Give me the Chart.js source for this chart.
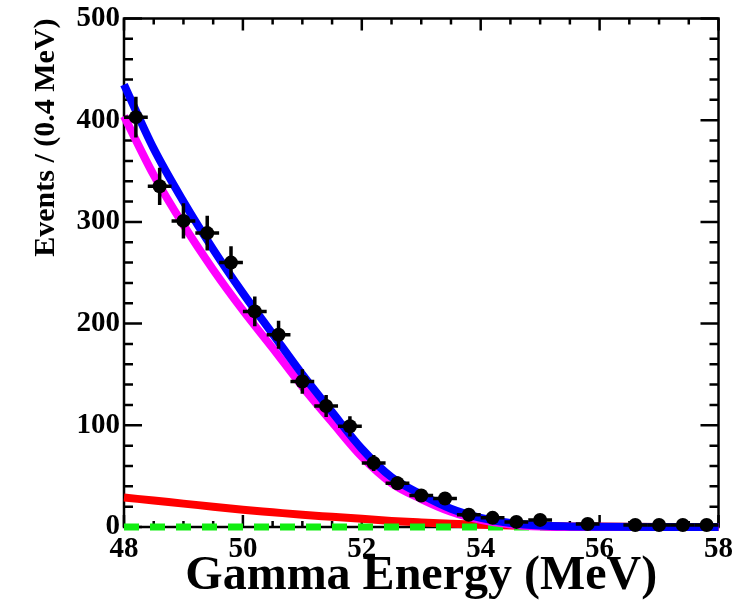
<!DOCTYPE html>
<html>
<head>
<meta charset="utf-8">
<script src="https://cdn.jsdelivr.net/npm/chart.js@4"></script>
<style>
  body { margin: 0; background: #fff; }
  #wrap { width: 741px; height: 605px; }
</style>
</head>
<body>
<div id="wrap"><canvas id="myChart"></canvas></div>
<script>
// measured points (bin centres, 0.4 MeV bins)
var binCenters = [48.2, 48.6, 49.0, 49.4, 49.8, 50.2, 50.6, 51.0, 51.4, 51.8, 52.2, 52.6, 53.0, 53.4, 53.8, 54.2, 54.6, 55.0, 55.8, 56.6, 57.0, 57.4, 57.8];
var counts     = [403, 335, 301, 289, 260, 212, 189, 143, 119, 99, 63, 43, 31, 28, 12, 9, 5, 7, 3, 2, 2, 2, 2];
var countErrs  = [20, 18.3, 17.3, 17, 16.1, 14.6, 13.7, 12, 10.9, 9.9, 7.9, 6.6, 5.6, 5.3, 3.5, 3, 2.2, 2.6, 1.7, 1.4, 1.4, 1.4, 1.4];
var binHalfWidth = 0.2;

// fit curves
var curveX      = [48.0, 48.5, 49.0, 49.5, 50.0, 50.5, 51.0, 51.5, 52.0, 52.5, 53.0, 53.5, 54.0, 54.5, 55.0, 55.5, 56.0, 57.0, 58.0];
var totalFit    = [435, 372, 320, 273, 230, 190, 150, 113, 77, 49, 32, 18, 9, 4, 1.5, 0.6, 0.2, 0, 0];
var signalFit   = [404, 346, 297, 253, 213, 176, 138, 103, 69, 43, 27.5, 15, 7, 2.5, 0.5, 0, 0, 0, 0];
var bkgFit      = [29, 26, 23, 20, 17, 14.5, 12, 10, 8, 6, 4.5, 3.2, 2.2, 1.5, 1, 0.6, 0.4, 0.1, 0];
var flatX       = [48, 58];
var flatFit     = [0, 0];

var xTicks = [48, 50, 52, 54, 56, 58];

function pts(xs, ys) {
  return xs.map(function (x, i) { return { x: x, y: ys[i] }; });
}

var serif = "'Liberation Serif', 'Times New Roman', serif";

// error bars on the data points
var errorBars = {
  id: 'errorBars',
  afterDatasetsDraw: function (chart) {
    var ctx = chart.ctx, xs = chart.scales.x, ys = chart.scales.y;
    ctx.save();
    ctx.strokeStyle = '#000';
    ctx.lineWidth = 3.5;
    for (var i = 0; i < binCenters.length; i++) {
      var px = xs.getPixelForValue(binCenters[i]);
      var py = ys.getPixelForValue(counts[i]);
      ctx.beginPath();
      ctx.moveTo(xs.getPixelForValue(binCenters[i] - binHalfWidth), py);
      ctx.lineTo(xs.getPixelForValue(binCenters[i] + binHalfWidth), py);
      ctx.moveTo(px, ys.getPixelForValue(counts[i] - countErrs[i]));
      ctx.lineTo(px, ys.getPixelForValue(counts[i] + countErrs[i]));
      ctx.stroke();
    }
    ctx.restore();
  }
};

// frame and inward ticks, ROOT style (under the curves)
var frameTicks = {
  id: 'frameTicks',
  beforeDatasetsDraw: function (chart) {
    var ctx = chart.ctx, a = chart.chartArea, xs = chart.scales.x, ys = chart.scales.y;
    ctx.save();
    ctx.strokeStyle = '#000';
    ctx.lineWidth = 2.5;
    ctx.strokeRect(a.left, a.top, a.right - a.left, a.bottom - a.top);
    ctx.beginPath();
    for (var v = 0; v <= 500; v += 20) {
      var y = ys.getPixelForValue(v);
      var len = (v % 100 === 0) ? 18 : 9;
      ctx.moveTo(a.left, y); ctx.lineTo(a.left + len, y);
      ctx.moveTo(a.right, y); ctx.lineTo(a.right - len, y);
    }
    for (var e = 48; e <= 58.001; e += 0.5) {
      var x = xs.getPixelForValue(e);
      var l = (Math.abs(e - Math.round(e)) < 0.01 && Math.round(e) % 2 === 0) ? 12 : 6;
      ctx.moveTo(x, a.bottom); ctx.lineTo(x, a.bottom - l);
      ctx.moveTo(x, a.top); ctx.lineTo(x, a.top + l);
    }
    ctx.stroke();
    ctx.restore();
  }
};

var ctx = document.getElementById('myChart').getContext('2d');
var myChart = new Chart(ctx, {
  type: 'line',
  data: {
    datasets: [{
      label: 'Data',
      data: pts(binCenters, counts),
      showLine: false,
      pointRadius: 7,
      pointBackgroundColor: '#000',
      pointBorderColor: '#000',
      pointBorderWidth: 0,
      clip: false,
      order: 0
    }, {
      label: 'Total fit',
      data: pts(curveX, totalFit),
      borderColor: '#0000ff',
      borderWidth: 8,
      pointRadius: 0,
      cubicInterpolationMode: 'monotone',
      clip: false,
      order: 1
    }, {
      label: 'Signal',
      data: pts(curveX, signalFit),
      borderColor: '#ff00ff',
      borderWidth: 8,
      pointRadius: 0,
      cubicInterpolationMode: 'monotone',
      clip: false,
      order: 2
    }, {
      label: 'Flat',
      data: pts(flatX, flatFit),
      borderColor: '#11ee11',
      borderWidth: 7,
      borderDash: [15, 11],
      pointRadius: 0,
      clip: false,
      order: 3
    }, {
      label: 'Background',
      data: pts(curveX, bkgFit),
      borderColor: '#ff0000',
      borderWidth: 8,
      pointRadius: 0,
      cubicInterpolationMode: 'monotone',
      clip: false,
      order: 4
    }]
  },
  options: {
    responsive: true,
    maintainAspectRatio: false,
    animation: false,
    layout: { padding: { left: 0, top: 14, right: 22, bottom: 0 } },
    plugins: {
      legend: { display: false },
      tooltip: { enabled: false }
    },
    scales: {
      x: {
        type: 'linear',
        min: 48,
        max: 58,
        afterBuildTicks: function (scale) {
          scale.ticks = xTicks.map(function (v) { return { value: v }; });
        },
        afterFit: function (scale) { scale.height = 78; },
        grid: { display: false, drawTicks: false },
        border: { display: false },
        ticks: {
          color: '#000',
          padding: 8,
          maxRotation: 0,
          font: { family: serif, weight: 'bold', size: 29, lineHeight: 1 }
        },
        title: {
          display: true,
          text: 'Gamma Energy (MeV)',
          color: '#000',
          padding: { top: 0, bottom: 0 },
          font: { family: serif, weight: 'bold', size: 48 }
        }
      },
      y: {
        min: 0,
        max: 500,
        afterFit: function (scale) { scale.width = 124; },
        grid: { display: false, drawTicks: false },
        border: { display: false },
        ticks: {
          stepSize: 100,
          color: '#000',
          padding: 4,
          font: { family: serif, weight: 'bold', size: 29, lineHeight: 1 }
        },
        title: {
          display: true,
          text: 'Events / (0.4 MeV)',
          align: 'end',
          color: '#000',
          padding: { top: 28, bottom: 0 },
          font: { family: serif, weight: 'bold', size: 30 }
        }
      }
    }
  },
  plugins: [frameTicks, errorBars]
});
</script>
</body>
</html>
